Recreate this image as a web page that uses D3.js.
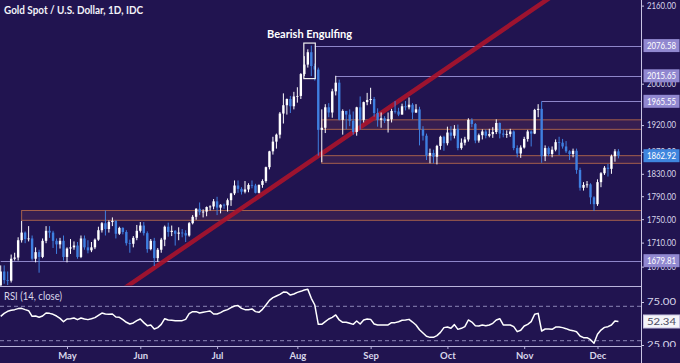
<!DOCTYPE html>
<html>
<head>
<meta charset="utf-8">
<script src="https://cdn.jsdelivr.net/npm/d3@7"></script>
<style>
body{margin:0;background:#211450;}
svg{display:block;}
text{font-family:'Lato','Noto Sans',sans-serif;}
</style>
</head>
<body>
<svg></svg>
<script>
// daily candles, [open, high, low, close], one array per month
var apr=[[1620,1672,1612,1662],[1662,1672,1642,1648],[1648,1662,1640,1647],[1647,1690,1644,1683],[1683,1693,1680,1685],
[1685,1719,1680,1714],[1714,1747,1710,1727],[1727,1729,1709,1716],[1716,1738,1712,1717],[1717,1722,1680,1683],
[1683,1702,1677,1694],[1694,1698,1660,1686],[1686,1717,1684,1713],[1713,1738,1709,1730],[1730,1738,1718,1727],
[1727,1730,1701,1713],[1713,1717,1691,1707],[1707,1718,1700,1713],[1713,1722,1680,1686]];
var may=[[1686,1702,1677,1700],[1700,1716,1691,1702],[1702,1712,1698,1705],[1705,1711,1683,1686],[1686,1722,1684,1717],
[1717,1722,1698,1702],[1702,1714,1692,1697],[1697,1711,1694,1702],[1702,1717,1699,1715],[1715,1737,1713,1731],
[1731,1745,1727,1743],[1743,1765,1722,1733],[1733,1748,1727,1745],[1745,1753,1738,1747],[1747,1748,1717,1725],
[1725,1737,1723,1735],[1735,1736,1724,1728],[1728,1731,1705,1709],[1709,1715,1693,1708],[1708,1721,1702,1718],
[1718,1740,1714,1730]];
var jun=[[1730,1745,1727,1739],[1739,1745,1722,1726],[1726,1729,1693,1699],[1699,1716,1697,1713],[1713,1718,1671,1684],
[1684,1701,1678,1698],[1698,1718,1693,1715],[1715,1739,1704,1737],[1737,1744,1720,1728],[1728,1739,1721,1730],
[1730,1731,1705,1725],[1725,1736,1714,1727],[1727,1733,1719,1726],[1726,1731,1711,1722],[1722,1745,1720,1743],
[1743,1757,1741,1754],[1754,1769,1749,1768],[1768,1779,1757,1762],[1762,1767,1753,1763],[1763,1772,1755,1771],
[1771,1774,1765,1772],[1772,1785,1767,1781]];
var jul=[[1781,1789,1757,1770],[1770,1776,1760,1775],[1775,1777,1768,1774],[1774,1786,1763,1783],[1783,1796,1773,1795],
[1795,1818,1792,1809],[1809,1818,1796,1803],[1803,1806,1793,1798],[1798,1817,1795,1802],[1802,1813,1797,1810],
[1810,1818,1804,1809],[1809,1812,1795,1796],[1796,1811,1795,1810],[1810,1820,1805,1817],[1817,1843,1814,1842],
[1842,1872,1838,1871],[1871,1898,1865,1889],[1889,1904,1876,1902],[1902,1945,1895,1942],[1942,1981,1923,1958],
[1958,1971,1940,1970],[1970,1976,1943,1956],[1956,1984,1950,1975]];
var aug=[[1975,1993,1963,1976],[1976,2021,1970,2019],[2019,2055,2015,2038],[2038,2069,2032,2063],[2063,2076.58,2015,2035],
[2035,2040,2006,2028],[2028,2032,1863,1911],[1911,1950,1851,1915],[1915,1960,1905,1954],[1954,1962,1935,1944],
[1944,1990,1934,1985],[1985,2015.65,1977,2002],[2002,2008,1929,1930],[1930,1950,1902,1947],[1947,1947,1912,1940],
[1940,1950,1918,1928],[1928,1946,1902,1907],[1907,1955,1900,1954],[1954,1975,1911,1930],[1930,1965,1925,1964],
[1964,1982,1958,1968]];
var sep=[[1968,1992,1960,1970],[1970,1974,1936,1943],[1943,1952,1917,1930],[1930,1944,1915,1933],[1933,1937,1924,1928],
[1928,1944,1906,1931],[1931,1951,1925,1947],[1947,1966,1942,1946],[1946,1953,1937,1940],[1940,1961,1940,1956],
[1956,1966,1948,1954],[1954,1973,1950,1959],[1959,1962,1931,1944],[1944,1960,1943,1950],[1950,1955,1882,1912],
[1912,1918,1891,1900],[1900,1904,1855,1863],[1863,1876,1849,1868],[1868,1874,1849,1861],[1861,1883,1847,1881],
[1881,1900,1874,1898],[1898,1900,1872,1886]];
var oct=[[1886,1917,1882,1906],[1906,1918,1891,1900],[1900,1920,1895,1913],[1913,1921,1873,1877],[1877,1895,1874,1887],
[1887,1898,1882,1893],[1893,1933,1889,1930],[1930,1933,1916,1922],[1922,1924,1886,1891],[1891,1904,1887,1901],
[1901,1912,1893,1908],[1908,1912,1895,1900],[1900,1913,1897,1903],[1903,1916,1896,1907],[1907,1931,1903,1924],
[1924,1925,1895,1904],[1904,1912,1897,1902],[1902,1910,1896,1903],[1903,1913,1898,1908],[1908,1910,1873,1877],
[1877,1882,1860,1867],[1867,1882,1859,1878]];
var nov=[[1878,1898,1876,1894],[1894,1911,1889,1908],[1908,1910,1880,1904],[1904,1951,1903,1949],[1949,1960,1935,1951],
[1951,1965.55,1850,1862],[1862,1882,1853,1877],[1877,1880,1862,1866],[1866,1880,1860,1874],[1874,1893,1871,1888],
[1888,1898,1864,1887],[1887,1894,1876,1880],[1880,1890,1868,1871],[1871,1873,1855,1866],[1866,1876,1860,1872],
[1872,1876,1830,1837],[1837,1841,1800,1805],[1805,1815,1800,1810],[1810,1817,1805,1811],[1811,1813,1776,1788],
[1788,1790,1764,1776]];
var dec=[[1776,1820,1773,1815],[1815,1833,1806,1831],[1831,1844,1828,1841],[1841,1848,1825,1839],[1839,1865,1830,1862],
[1862,1875,1852,1871],[1871,1875,1858,1862.92]];

// RSI (14, close), one value per candle
var rsi=[58.3,61.8,64.2,65.3,66.1,67.3,67.6,66.1,64.9,58.3,58.7,57.2,58.7,62.2,61.8,60.7,58.7,56.0,52.1,
55.2,55.6,56.4,54.5,56.4,55.2,54.5,55.6,56.8,59.5,62.2,61.0,60.7,61.0,57.6,57.2,54.5,51.4,49.4,50.6,53.3,
55.2,51.0,47.5,48.3,43.6,45.2,49.0,55.6,54.1,53.7,53.3,53.3,53.3,54.8,61.4,63.8,63.8,62.2,63.0,63.8,64.5,61.0,
61.0,62.6,64.9,66.1,68.4,70.4,70.8,67.6,66.1,66.1,66.9,63.8,63.0,66.5,71.5,76.9,80.0,82.0,83.9,86.6,86.2,83.1,84.3,
86.2,87.4,89.0,89.7,79.3,71.5,49.0,49.0,52.1,55.2,57.2,59.9,54.1,51.4,51.4,50.2,49.0,52.9,49.4,
54.1,55.2,54.8,49.4,48.3,48.3,48.3,48.3,51.0,51.0,52.1,53.7,54.1,54.8,51.7,48.3,42.8,39.0,35.1,33.9,33.9,35.9,
39.7,45.2,45.9,44.4,48.7,43.2,44.4,46.3,54.1,51.7,47.5,47.1,48.3,47.5,48.3,50.2,54.1,55.6,48.3,48.3,
48.3,46.3,40.5,42.1,47.1,49.0,52.1,60.7,61.8,41.3,43.6,43.6,43.2,45.9,45.9,45.2,44.0,42.4,41.7,40.5,35.5,33.5,
33.5,31.2,27.0,37.4,42.4,45.5,46.3,48.3,52.9,52.34];

var priceTicks=[1670,1710,1750,1790,1830,1870,1920,2000,2160];
var rsiTicks=[25,75];
var rsiBands=[70,30];
var months=["May","Jun","Jul","Aug","Sep","Oct","Nov","Dec"];
// horizontal levels: price and the date they start from
var levels=[[2076.58,"2020-08-10"],[2015.65,"2020-08-18"],[1965.55,"2020-11-09"],[1679.81,"2020-04-06"]];
// support / resistance zones: [low, high, start date]
var zones=[[1912,1930,"2020-08-12"],[1849,1863,"2020-08-12"],[1748,1765,"2020-04-14"]];
// rising trendline anchors: [date, price]
var trend=[["2020-06-05",1668],["2020-10-07",2051]];
var engulf=["2020-08-06","2020-08-07"];
var lastPrice=1862.92, lastRsi=52.34;

var W=680,H=363,axisX=641,priceBottom=285,rsiTop=286,rsiBottom=346;
var bg="#211450", upCol="#ffffff", downCol="#3f7fe0";
var f2=d3.format(".2f");

var candles=[].concat(apr,may,jun,jul,aug,sep,oct,nov,dec);
var dates=[]; var d=new Date(2020,3,6);
while(dates.length<candles.length){ if(d.getDay()%6!==0) dates.push(new Date(d)); d.setDate(d.getDate()+1); }
var fmtDay=d3.timeFormat("%Y-%m-%d");
var dayIndex={}; dates.forEach(function(t,i){ dayIndex[fmtDay(t)]=i; });

var x=d3.scaleLinear().domain([0,candles.length-1]).range([0.7,0.7+3.49*(candles.length-1)]);
var y=d3.scaleLog().domain([1640,2172]).range([priceBottom,0]);
var ry=d3.scaleLinear().domain([25,75]).range([345,302]);

var svg=d3.select("svg").attr("width",W).attr("height",H);
svg.append("rect").attr("width",W).attr("height",H).attr("fill",bg);

var defs=svg.append("defs");
defs.append("clipPath").attr("id","pc").append("rect").attr("x",0).attr("y",0).attr("width",axisX).attr("height",priceBottom+0.5);
defs.append("clipPath").attr("id","rc").append("rect").attr("x",0).attr("y",rsiTop).attr("width",axisX).attr("height",rsiBottom-rsiTop);
defs.append("clipPath").attr("id","rac").append("rect").attr("x",axisX).attr("y",rsiTop).attr("width",W-axisX).attr("height",rsiBottom-rsiTop+1);

var plot=svg.append("g").attr("clip-path","url(#pc)");

// zones
plot.selectAll("rect.zone").data(zones).enter().append("rect")
  .attr("class","zone")
  .attr("x",function(z){ return x(dayIndex[z[2]]); })
  .attr("y",function(z){ return y(z[1]); })
  .attr("width",function(z){ return axisX+5-x(dayIndex[z[2]]); })
  .attr("height",function(z){ return y(z[0])-y(z[1]); })
  .attr("fill","rgba(150,80,90,0.18)")
  .attr("stroke","#a35f4c").attr("stroke-width",1);

// levels
plot.selectAll("line.lvl").data(levels).enter().append("line")
  .attr("x1",function(l){ return x(dayIndex[l[1]]); })
  .attr("x2",axisX)
  .attr("y1",function(l){ return Math.round(y(l[0]))+0.5; })
  .attr("y2",function(l){ return Math.round(y(l[0]))+0.5; })
  .attr("stroke","#8e86c9").attr("stroke-width",1);

// trendline, extended through the whole plot
var t0=dayIndex[trend[0][0]], t1=dayIndex[trend[1][0]];
var slope=(Math.log(trend[1][1])-Math.log(trend[0][1]))/(t1-t0);
function trendAt(i){ return Math.exp(Math.log(trend[0][1])+slope*(i-t0)); }
plot.append("line")
  .attr("x1",x(20)).attr("y1",y(trendAt(20)))
  .attr("x2",x(200)).attr("y2",y(trendAt(200)))
  .attr("stroke","#a8132c").attr("stroke-width",4.5).attr("stroke-opacity",0.92);

// candles
var cg=plot.selectAll("g.c").data(candles).enter().append("g");
cg.append("line")
  .attr("x1",function(c,i){ return x(i); }).attr("x2",function(c,i){ return x(i); })
  .attr("y1",function(c){ return y(c[1]); }).attr("y2",function(c){ return y(c[2]); })
  .attr("stroke",function(c){ return c[3]>=c[0]?upCol:downCol; }).attr("stroke-width",1);
cg.append("rect")
  .attr("x",function(c,i){ return x(i)-1.2; }).attr("width",2.4)
  .attr("y",function(c){ return y(Math.max(c[0],c[3])); })
  .attr("height",function(c){ return Math.max(0.8,Math.abs(y(c[0])-y(c[3]))); })
  .attr("fill",function(c){ return c[3]>=c[0]?upCol:downCol; });

// bearish engulfing marker
var e0=dayIndex[engulf[0]], e1=dayIndex[engulf[1]];
var eHi=d3.max([candles[e0][1],candles[e1][1]]), eLo=d3.min([candles[e0][2],candles[e1][2]]);
svg.append("rect")
  .attr("x",x(e0)-4).attr("y",y(eHi)-2.5)
  .attr("width",x(e1)-x(e0)+8).attr("height",y(eLo)-y(eHi)+5)
  .attr("fill","none").attr("stroke","#f0f0f0").attr("stroke-width",1.2);
svg.append("text").attr("x",(x(e0)+x(e1))/2).attr("y",y(eHi)-8)
  .attr("text-anchor","middle").attr("fill","#ffffff")
  .attr("font-size",11).attr("font-weight","bold")
  .attr("textLength",85).attr("lengthAdjust","spacingAndGlyphs").text("Bearish Engulfing");

// title
svg.append("text").attr("x",4).attr("y",14).attr("fill","#f2f2f8")
  .attr("font-size",11).attr("font-weight","bold")
  .attr("textLength",139).attr("lengthAdjust","spacingAndGlyphs").text("Gold Spot / U.S. Dollar, 1D, IDC");

// RSI panel
svg.append("line").attr("x1",0).attr("x2",axisX).attr("y1",rsiTop+0.5).attr("y2",rsiTop+0.5)
  .attr("stroke","#b9b4dc").attr("stroke-width",1);
svg.selectAll("line.band").data(rsiBands).enter().append("line")
  .attr("x1",0).attr("x2",axisX)
  .attr("y1",function(v){ return ry(v); }).attr("y2",function(v){ return ry(v); })
  .attr("stroke","#8a84b4").attr("stroke-width",1).attr("stroke-dasharray","4,3");
svg.append("g").attr("clip-path","url(#rc)").append("path")
  .datum(rsi)
  .attr("d",d3.line().x(function(v,i){ return x(i); }).y(function(v){ return ry(v); }))
  .attr("fill","none").attr("stroke","#ffffff").attr("stroke-width",1.5).attr("stroke-linejoin","round");
svg.append("text").attr("x",4).attr("y",300).attr("fill","#d8d6ea").attr("font-size",10.5)
  .attr("textLength",58).attr("lengthAdjust","spacingAndGlyphs").text("RSI (14, close)");

// x axis
var monthStarts=[];
dates.forEach(function(t,i){ if(i>0 && t.getMonth()!==dates[i-1].getMonth()) monthStarts.push(i); });
var xa=svg.append("g").attr("transform","translate(0,"+rsiBottom+")")
  .call(d3.axisBottom(x).tickValues(monthStarts).tickFormat(function(v,i){ return months[i]; }).tickSize(3).tickPadding(3));
xa.select(".domain").attr("stroke","#b9b4dc").attr("d","M0,0.5H"+axisX);
xa.selectAll(".tick line").attr("stroke","#b9b4dc");
xa.selectAll(".tick text").attr("fill","#d8d6ea").attr("font-size",9.5).attr("font-weight","bold");

// right price axis
function styleAxis(g){
  g.select(".domain").remove();
  g.selectAll(".tick line").attr("stroke","#c9c5e4");
  g.selectAll(".tick text").attr("fill","#d8d6ea").attr("font-size",9)
    .attr("textLength",29).attr("lengthAdjust","spacingAndGlyphs");
}
svg.append("line").attr("x1",axisX+0.5).attr("x2",axisX+0.5).attr("y1",0).attr("y2",H).attr("stroke","#c9c5e4");
var ya=svg.append("g").attr("transform","translate("+axisX+",0)")
  .call(d3.axisRight(y).tickValues(priceTicks).tickFormat(f2).tickSize(3).tickPadding(3));
styleAxis(ya);

var ra=svg.append("g").attr("clip-path","url(#rac)").append("g").attr("transform","translate("+axisX+",0)")
  .call(d3.axisRight(ry).tickValues(rsiTicks).tickFormat(f2).tickSize(3).tickPadding(3));
styleAxis(ra);

// value tags on the right axis
function tag(val,py,fill,textCol,stroke){
  var g=svg.append("g");
  g.append("rect").attr("x",axisX+2.5).attr("y",py-6.5).attr("width",W-axisX-3).attr("height",13)
    .attr("fill",fill).attr("stroke",stroke||"none");
  g.append("text").attr("x",axisX+6).attr("y",py+3.5).attr("fill",textCol).attr("font-size",9)
    .attr("textLength",29).attr("lengthAdjust","spacingAndGlyphs").text(f2(val));
}
levels.forEach(function(l){ tag(l[0],y(l[0]),"#9188d0","#ffffff"); });
tag(lastPrice,y(lastPrice),"#3f86de","#ffffff");
tag(lastRsi,ry(lastRsi),"#f4f4f8","#4a4a60","#c9c5e4");
</script>
</body>
</html>
